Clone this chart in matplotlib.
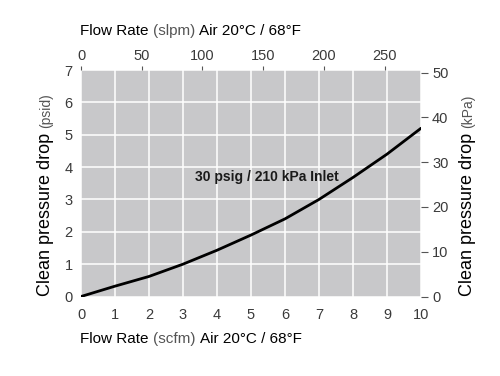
import matplotlib
matplotlib.use("Agg")
from matplotlib import pyplot as plt

plt.rcParams['font.family'] = ['Liberation Sans', 'DejaVu Sans']

# dados
scfm = [0, 1, 2, 3, 4, 5, 6, 7, 8, 9, 10]
psid = [0, 0.32, 0.62, 1.0, 1.43, 1.9, 2.4, 3.0, 3.68, 4.4, 5.2]
x_ticks = [0, 1, 2, 3, 4, 5, 6, 7, 8, 9, 10]
y_ticks = [0, 1, 2, 3, 4, 5, 6, 7]
slpm_ticks = [0, 50, 100, 150, 200, 250]
kpa_ticks = [0, 10, 20, 30, 40, 50]
curve_label = '30 psig / 210 kPa Inlet'

tick_color = '#3a3a3a'

fig = plt.figure(figsize=(5, 3.76), dpi=100)
ax = fig.add_axes([0.162, 0.2114, 0.68, 0.6024])
ax.set_facecolor('#c8c8ca')
for s in ax.spines.values():
    s.set_visible(False)

ax.plot(scfm, psid, color='black', linewidth=2, solid_capstyle='round', zorder=3)
ax.set_xlim(0, 10)
ax.set_ylim(0, 7)
ax.set_xticks(x_ticks)
ax.set_yticks(y_ticks)
ax.grid(True, color='white', linewidth=1.1)
ax.set_axisbelow(True)
ax.tick_params(axis='both', length=0, labelsize=10.5, labelcolor=tick_color)
ax.tick_params(axis='x', pad=8)
ax.tick_params(axis='y', pad=6)

ax.text(3.35, 3.68, curve_label, fontsize=10, fontweight='bold',
        color='#1a1a1a', va='center', ha='left')

# eixo superior (slpm)
top = ax.twiny()
top.set_xlim(0, 280)
top.set_xticks(slpm_ticks)
for s in top.spines.values():
    s.set_visible(False)
top.tick_params(axis='x', length=3, width=0.8, color='#555555',
                labelsize=10.5, labelcolor=tick_color, pad=2)

# eixo direito (kPa)
right = ax.twinx()
right.set_ylim(0, 50.6)
right.set_yticks(kpa_ticks)
for s in right.spines.values():
    s.set_visible(False)
right.tick_params(axis='y', length=5, width=0.8, color='#555555',
                  labelsize=10.5, labelcolor=tick_color, pad=3)

renderer = fig.canvas.get_renderer()
W, H = 500, 376


def label_line(px, py, parts, rotation=0):
    # escreve um texto em pedaços com estilos diferentes (px, py em pixels)
    for txt, size, col, w in parts:
        t = fig.text(px / W, py / H, txt, fontsize=size, color=col,
                     fontweight=w, rotation=rotation, ha='left',
                     va='baseline', rotation_mode='anchor')
        bb = t.get_window_extent(renderer)
        if rotation == 0:
            px = bb.x1
        else:
            py = bb.y1


flow_top = [('Flow Rate ', 11, 'black', 'normal'),
            ('(slpm) ', 11, '#555555', 'normal'),
            ('Air 20°C / 68°F', 11, 'black', 'normal')]
flow_bot = [('Flow Rate ', 11, 'black', 'normal'),
            ('(scfm) ', 11, '#555555', 'normal'),
            ('Air 20°C / 68°F', 11, 'black', 'normal')]
label_line(80, H - 35, flow_top)
label_line(80, H - 343, flow_bot)

press_l = [('Clean pressure drop ', 13, 'black', 'normal'),
           ('(psid)', 10, '#555555', 'normal')]
press_r = [('Clean pressure drop ', 13, 'black', 'normal'),
           ('(kPa)', 10, '#555555', 'normal')]
label_line(50, H - 296, press_l, rotation=90)
label_line(472, H - 296, press_r, rotation=90)

fig.savefig('out.png', dpi=100)
